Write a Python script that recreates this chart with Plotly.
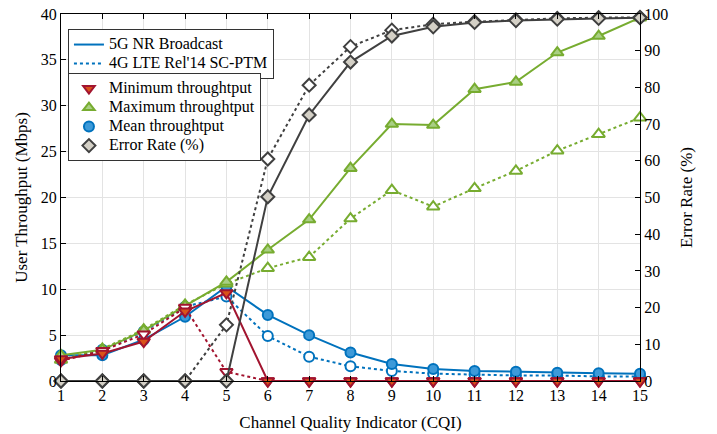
import plotly.graph_objects as go

cqi = list(range(1, 16))

mean_5g = [2.8, 2.8, 4.5, 7.0, 10.3, 7.2, 5.0, 3.1, 1.85, 1.3, 1.1, 1.0, 0.9, 0.85, 0.8]
mean_4g = [2.3, 3.4, 5.4, 8.1, 9.2, 4.9, 2.65, 1.6, 1.1, 0.8, 0.7, 0.6, 0.6, 0.5, 0.5]
min_5g = [2.4, 3.0, 4.3, 7.6, 9.6, 0, 0, 0, 0, 0, 0, 0, 0, 0, 0]
min_4g = [2.2, 3.3, 5.1, 8.0, 1.0, 0, 0, 0, 0, 0, 0, 0, 0, 0, 0]
max_5g = [2.8, 3.4, 5.5, 8.2, 10.8, 14.3, 17.6, 23.2, 28.0, 27.9, 31.8, 32.6, 35.8, 37.6, 39.6]
max_4g = [2.3, 3.5, 5.6, 8.3, 10.6, 12.3, 13.5, 17.7, 20.8, 19.0, 21.0, 22.9, 25.1, 26.9, 28.7]
err_5g = [0, 0, 0, 0, 0, 50.2, 72.5, 86.9, 94.0, 96.5, 97.7, 98.2, 98.6, 98.8, 99.0]
err_4g = [0, 0, 0, 0, 15.3, 60.5, 80.6, 91.1, 95.6, 97.2, 97.9, 98.4, 98.8, 99.0, 99.1]

left_ticks = list(range(0, 41, 5))
right_ticks = list(range(0, 101, 10))

BLUE, BLUE_F = "#0072BD", "#3d9ad9"
RED, RED_F = "#A2142F", "#D95319"
GREEN, GREEN_F = "#77AC30", "#a9cf84"
GRAY, GRAY_F = "#404040", "#d4d0c6"

FONT = "Liberation Serif, Times New Roman, Times, serif"

fig = go.Figure()

def add(y, color, fill, dash, symbol, yaxis="y", size=10):
    fig.add_trace(go.Scatter(
        x=cqi, y=y, mode="lines+markers", yaxis=yaxis, showlegend=False, cliponaxis=False,
        line=dict(color=color, width=2, dash=dash),
        marker=dict(symbol=symbol, size=size, color=fill, line=dict(color=color, width=2)),
        hoverinfo="skip"))

add(mean_4g, BLUE, "white", "dot", "circle")
add(mean_5g, BLUE, BLUE_F, "solid", "circle")
add(max_4g, GREEN, "white", "dot", "triangle-up", size=11)
add(max_5g, GREEN, GREEN_F, "solid", "triangle-up", size=11)
add(min_4g, RED, "white", "dot", "triangle-down", size=11)
add(min_5g, RED, RED_F, "solid", "triangle-down", size=11)
add(err_4g, GRAY, "white", "dot", "diamond", yaxis="y2")
add(err_5g, GRAY, GRAY_F, "solid", "diamond", yaxis="y2")

def lbl(t):
    return "<span style='font-size:16px'>" + t + "</span>"

# legend 1: line styles
fig.add_trace(go.Scatter(x=[None], y=[None], mode="lines", name=lbl("5G NR Broadcast"),
                         line=dict(color=BLUE, width=2), legend="legend"))
fig.add_trace(go.Scatter(x=[None], y=[None], mode="lines", name=lbl("4G LTE Rel'14 SC-PTM"),
                         line=dict(color=BLUE, width=2, dash="dot"), legend="legend"))
# legend 2: markers
for name, sym, col, fill in [
    ("Minimum throughtput", "triangle-down", RED, RED_F),
    ("Maximum throughtput", "triangle-up", GREEN, GREEN_F),
    ("Mean throughtput", "circle", BLUE, BLUE_F),
    ("Error Rate (%)", "diamond", GRAY, GRAY_F),
]:
    fig.add_trace(go.Scatter(x=[None], y=[None], mode="markers", name=lbl(name), legend="legend2",
                             marker=dict(symbol=sym, size=10, color=fill, line=dict(color=col, width=2))))

legend_common = dict(bgcolor="white", bordercolor="#333333", borderwidth=1,
                     font=dict(family=FONT, size=12, color="black"),
                     xanchor="left", yanchor="top", tracegroupgap=0)

fig.update_layout(
    width=717, height=434,
    margin=dict(l=61, r=77, t=14, b=53),
    paper_bgcolor="white", plot_bgcolor="white",
    font=dict(family=FONT, size=15, color="black"),
    legend=dict(x=0.012, y=0.959, **legend_common),
    legend2=dict(x=0.012, y=0.839, **legend_common),
    xaxis=dict(range=[1, 15], tickvals=cqi, showgrid=True, gridcolor="#e3e3e3", gridwidth=1,
               showline=True, linecolor="black", linewidth=1, mirror="ticks",
               ticks="inside", ticklen=5, tickcolor="black", automargin=False,
               ticklabeloverflow="allow",
               title=dict(text="Channel Quality Indicator (CQI)", font=dict(size=17), standoff=12),
               zeroline=False, tickfont=dict(size=16)),
    yaxis=dict(range=[0, 40], tickvals=left_ticks, showgrid=True, gridcolor="#e3e3e3",
               showline=True, linecolor="black", linewidth=1, automargin=False,
               ticks="inside", ticklen=5, tickcolor="black", ticklabeloverflow="allow",
               title=dict(text="User Throughput (Mbps)", font=dict(size=17), standoff=8),
               zeroline=False, tickfont=dict(size=16)),
    yaxis2=dict(range=[0, 100], tickvals=right_ticks, overlaying="y", side="right",
                showgrid=False, showline=True, linecolor="black", linewidth=1, automargin=False,
                ticks="inside", ticklen=5, tickcolor="black", ticklabeloverflow="allow",
                title=dict(text="Error Rate (%)", font=dict(size=17), standoff=12),
                zeroline=False, tickfont=dict(size=16)),
)

fig.write_html("out.html", config={"displayModeBar": False},
               post_script="document.body.style.margin='0';")
